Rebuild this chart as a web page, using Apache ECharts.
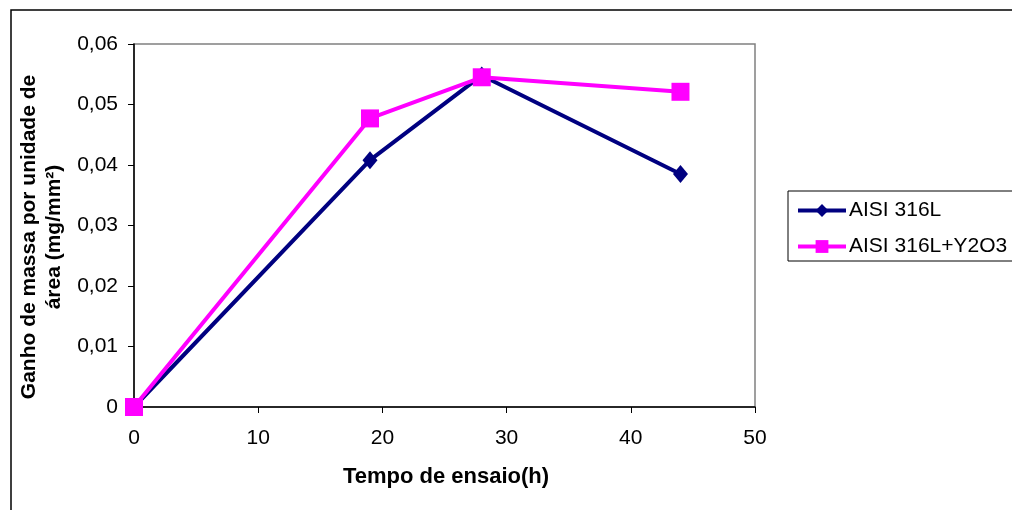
<!DOCTYPE html>
<html>
<head>
<meta charset="utf-8">
<script src="https://cdn.jsdelivr.net/npm/echarts@6/dist/echarts.min.js"></script>
<style>
  html, body { margin: 0; padding: 0; background: #fff; }
  #chart { width: 1012px; height: 510px; }
</style>
</head>
<body>
<div id="chart"></div>
<script>
// Test duration (h) and mass gain per unit area (mg/mm²)
const hours = [0, 19, 28, 44];
const aisi316L = [0, 0.0408, 0.0548, 0.0385];
const aisi316LY2O3 = [0, 0.0477, 0.0545, 0.0521];
const seriesNames = ['AISI 316L', 'AISI 316L+Y2O3'];
const xTitle = 'Tempo de ensaio(h)';
const yTitleLines = ['Ganho de massa por unidade de', 'área (mg/mm²)'];

const FONT = '"Liberation Sans", Arial, sans-serif';

function pairs(xs, ys) {
  return xs.map((x, i) => [x, ys[i]]);
}

const chart = echarts.init(document.getElementById('chart'), null, { renderer: 'canvas' });

chart.setOption({
  animation: false,
  backgroundColor: '#fff',
  grid: {
    left: 134, top: 44, width: 621, height: 363,
    show: true, borderColor: '#808080', borderWidth: 1.5, backgroundColor: 'transparent'
  },
  legend: {
    orient: 'vertical',
    left: 788, top: 191,
    data: [
      { name: seriesNames[0], itemStyle: { color: '#000080' } },
      { name: seriesNames[1], itemStyle: { color: '#FF00FF' } }
    ],
    itemWidth: 48, itemHeight: 16, itemGap: 15,
    padding: [9, 40, 4, 8],
    lineStyle: { width: 4 },
    borderColor: '#000', borderWidth: 1,
    textStyle: { fontFamily: FONT, fontSize: 21, color: '#000', padding: [0, 0, 0, -2] }
  },
  xAxis: {
    type: 'value', min: 0, max: 50, interval: 10,
    splitLine: { show: false },
    axisLine: { lineStyle: { color: '#000', width: 1.5 } },
    axisTick: { inside: false, length: 6, lineStyle: { color: '#000' } },
    axisLabel: { fontFamily: FONT, fontSize: 21, color: '#000', margin: 21 }
  },
  yAxis: {
    type: 'value', min: 0, max: 0.06, interval: 0.01,
    splitLine: { show: false },
    axisLine: { show: true, lineStyle: { color: '#000', width: 1.5 } },
    axisTick: { show: true, inside: false, length: 6, lineStyle: { color: '#000' } },
    axisLabel: {
      fontFamily: FONT, fontSize: 21, color: '#000', margin: 16,
      formatter: v => (v === 0 ? '0' : v.toFixed(2).replace('.', ','))
    }
  },
  series: [
    {
      name: seriesNames[0], type: 'line', data: pairs(hours, aisi316L),
      color: '#000080',
      lineStyle: { width: 4, color: '#000080' },
      symbol: 'diamond', symbolSize: [15, 18],
      itemStyle: { color: '#000080' }, z: 2
    },
    {
      name: seriesNames[1], type: 'line', data: pairs(hours, aisi316LY2O3),
      color: '#FF00FF',
      lineStyle: { width: 4, color: '#FF00FF' },
      symbol: 'rect', symbolSize: 18,
      itemStyle: { color: '#FF00FF' }, z: 3
    }
  ],
  graphic: [
    {
      type: 'rect', silent: true, z: -1,
      shape: { x: 11, y: 10, width: 1040, height: 540 },
      style: { fill: 'none', stroke: '#000', lineWidth: 1.5 }
    },
    {
      type: 'text', x: 446, y: 477,
      style: {
        text: xTitle, font: 'bold 22px ' + FONT, fill: '#000',
        align: 'center', verticalAlign: 'middle'
      }
    },
    {
      type: 'text', x: 42, y: 237, rotation: Math.PI / 2,
      style: {
        text: yTitleLines.join('\n'), font: 'bold 21px ' + FONT, fill: '#000',
        align: 'center', verticalAlign: 'middle', lineHeight: 25
      }
    }
  ]
});
</script>
</body>
</html>
